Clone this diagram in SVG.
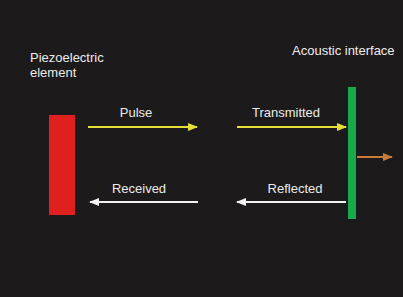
<svg xmlns="http://www.w3.org/2000/svg" width="403" height="297" viewBox="0 0 403 297">
<style>
text{font-family:"Liberation Sans",Arial,sans-serif;font-size:13px;fill:#ececec}
.c{text-anchor:middle}
.y{stroke:#e6df3a;stroke-width:2;fill:none}
.w{stroke:#f2f2f2;stroke-width:2;fill:none}
.o{stroke:#c97c3a;stroke-width:2;fill:none}
</style>
<defs>
<marker id="ay" markerWidth="10" markerHeight="8" refX="9" refY="4" orient="auto" markerUnits="userSpaceOnUse"><path d="M0,0L10,4L0,8Z" fill="#e6df3a"/></marker>
<marker id="aw" markerWidth="10" markerHeight="8" refX="9" refY="4" orient="auto" markerUnits="userSpaceOnUse"><path d="M0,0L10,4L0,8Z" fill="#f2f2f2"/></marker>
<marker id="ao" markerWidth="10" markerHeight="8" refX="9" refY="4" orient="auto" markerUnits="userSpaceOnUse"><path d="M0,0L10,4L0,8Z" fill="#c97c3a"/></marker>
</defs>
<rect width="403" height="297" fill="#1c1a1a"/>
<g id="piezo">
<rect x="49" y="115" width="26" height="100" fill="#e0201f"/>
<text x="30" y="62">Piezoelectric</text>
<text x="30" y="77">element</text>
</g>
<g id="interface">
<rect x="348" y="87" width="8" height="132" fill="#17a94a"/>
<text x="292" y="55">Acoustic interface</text>
</g>
<g id="connectors">
<line class="y" x1="88" y1="127" x2="197" y2="127" marker-end="url(#ay)"/>
<text class="c" x="136" y="117">Pulse</text>
<line class="y" x1="237" y1="127" x2="346" y2="127" marker-end="url(#ay)"/>
<text class="c" x="286" y="117">Transmitted</text>
<line class="o" x1="357" y1="157" x2="392" y2="157" marker-end="url(#ao)"/>
<line class="w" x1="346" y1="202" x2="237" y2="202" marker-end="url(#aw)"/>
<text class="c" x="295" y="193">Reflected</text>
<line class="w" x1="198" y1="202" x2="90" y2="202" marker-end="url(#aw)"/>
<text class="c" x="139" y="193">Received</text>
</g>
</svg>
